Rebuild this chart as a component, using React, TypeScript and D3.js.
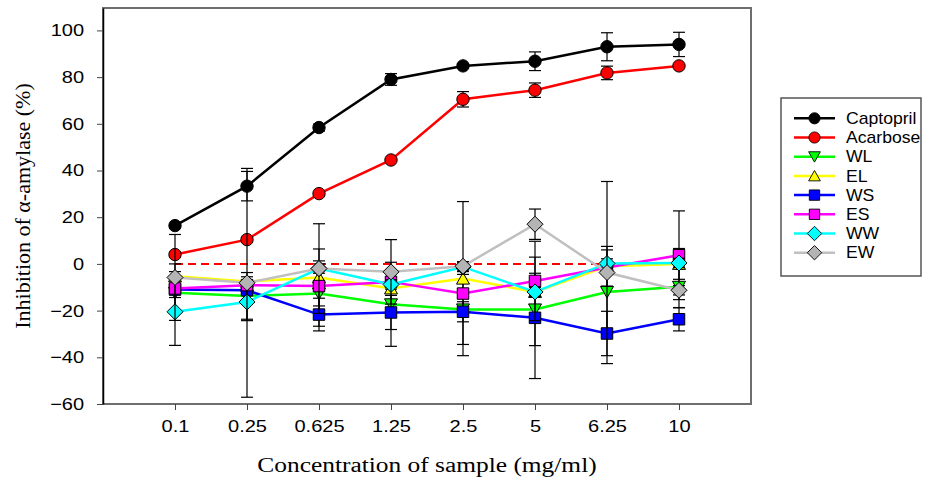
import React, { useEffect, useRef } from 'react';
import * as d3 from 'd3';

// concentrations (categorical x axis)
const concentrations = ['0.1', '0.25', '0.625', '1.25', '2.5', '5', '6.25', '10'];

// mean inhibition (%) and error per sample
const captopril = [16.4, 33.3, 58.4, 79, 84.8, 86.8, 93, 94];
const captoprilErr = [0.5, 6.3, 1.5, 2.5, 1, 4, 6, 5.2];
const acarbose = [4, 10.4, 30.1, 44.5, 70.5, 74.4, 81.8, 84.8];
const acarboseErr = [1, 1, 0.5, 0.5, 3.3, 3.1, 2.9, 0.5];
const wl = [-12.4, -13.7, -12.7, -17.3, -19.5, -19.5, -12, -9.8];
const wlErr = [2, 10, 14, 18, 15, 15.5, 18, 9];
const el = [-5.3, -7.5, -5.8, -10.5, -6.3, -12, -1, 0];
const elErr = [2, 2, 12.2, 2, 33, 2, 8.5, 6.6];
const ws = [-11, -11.3, -21.7, -20.8, -20.5, -23.1, -29.8, -23.7];
const wsErr = [2, 2, 7, 7.3, 4.3, 26, 9.5, 5];
const es = [-10.5, -9.1, -9.5, -7.7, -12.7, -7.3, -1.5, 3.7];
const esErr = [10.5, 2, 2, 2, 2, 17, 2, 19];
const ww = [-20.5, -16.3, -2, -8.8, -1.3, -12, 0.2, 0.4];
const wwErr = [14.4, 8, 2, 2, 2, 2, 2, 2];
const ew = [-5.8, -8.1, -2, -3.4, -1, 17, -3.7, -11.3];
const ewErr = [18.4, 49, 19.2, 13.8, 2, 6.5, 39, 2];

const seriesNames = ['Captopril', 'Acarbose', 'WL', 'EL', 'WS', 'ES', 'WW', 'EW'];
const seriesValues = [captopril, acarbose, wl, el, ws, es, ww, ew];
const seriesErrors = [captoprilErr, acarboseErr, wlErr, elErr, wsErr, esErr, wwErr, ewErr];
const lineColors = ['#000000', '#ff0000', '#00ff00', '#ffff00', '#0000ff', '#ff00ff', '#00ffff', '#c0c0c0'];
const markerFills = ['#000000', '#ff0000', '#00ff00', '#ffff00', '#0000ff', '#ff00ff', '#00ffff', '#b4b4b4'];
const markerShapes = ['circle', 'circle', 'down', 'up', 'square', 'square', 'diamond', 'diamond'];

const yTicks = [-60, -40, -20, 0, 20, 40, 60, 80, 100];

const W = 928;
const H = 481;
const plot = { left: 103, right: 751, top: 8, bottom: 404 };

function markerPath(shape: string): string {
  if (shape === 'circle') return d3.symbol(d3.symbolCircle, Math.PI * 6.2 * 6.2)() as string;
  if (shape === 'square') return d3.symbol(d3.symbolSquare, 11.5 * 11.5)() as string;
  if (shape === 'down') return 'M-6.5,-5.5L6.5,-5.5L0,6Z';
  if (shape === 'up') return 'M-6.5,5.5L6.5,5.5L0,-6Z';
  return 'M0,-8L8,0L0,8L-8,0Z';
}

function Chart() {
  const ref = useRef<SVGSVGElement | null>(null);

  useEffect(() => {
    const svg = d3.select(ref.current);
    svg.selectAll('*').remove();

    const x = d3.scalePoint<string>()
      .domain(concentrations)
      .range([plot.left, plot.right])
      .padding(1);

    const y = d3.scaleLinear()
      .domain([-60, 109.6])
      .range([plot.bottom, plot.top]);

    // frame
    svg.append('rect')
      .attr('x', plot.left).attr('y', plot.top)
      .attr('width', plot.right - plot.left).attr('height', plot.bottom - plot.top)
      .attr('fill', 'none').attr('stroke', '#6e6e6e').attr('stroke-width', 2);

    // axes
    const yAxis = d3.axisLeft(y).tickValues(yTicks).tickSize(6).tickSizeOuter(0).tickPadding(10);
    const gy = svg.append('g').attr('transform', `translate(${plot.left},0)`).call(yAxis);
    gy.select('.domain').attr('stroke', '#000').attr('stroke-width', 1.5);
    gy.selectAll('.tick line').attr('stroke', '#444');
    gy.selectAll('.tick text')
      .attr('font-family', '"Liberation Sans", Arial, sans-serif')
      .attr('font-size', 17).attr('fill', '#000')
      .attr('transform', 'scale(1.18,1)');

    const xAxis = d3.axisBottom(x).tickSize(6).tickSizeOuter(0).tickPadding(10);
    const gx = svg.append('g').attr('transform', `translate(0,${plot.bottom})`).call(xAxis);
    gx.select('.domain').remove();
    gx.selectAll('.tick line').attr('stroke', '#444');
    gx.selectAll('.tick text')
      .attr('font-family', '"Liberation Sans", Arial, sans-serif')
      .attr('font-size', 17).attr('fill', '#000')
      .attr('transform', 'scale(1.18,1)');

    // titles
    svg.append('text')
      .attr('transform', `translate(${(plot.left + plot.right) / 2},472) scale(1.27,1)`)
      .attr('text-anchor', 'middle')
      .attr('font-family', '"Liberation Serif", "Times New Roman", serif')
      .attr('font-size', 20)
      .text('Concentration of sample (mg/ml)');

    svg.append('text')
      .attr('transform', `translate(30,${(plot.top + plot.bottom) / 2}) rotate(-90) scale(1.1,1)`)
      .attr('text-anchor', 'middle')
      .attr('font-family', '"Liberation Serif", "Times New Roman", serif')
      .attr('font-size', 20)
      .text('Inhibition of \u03b1-amylase (%)');

    // zero reference line
    svg.append('line')
      .attr('x1', x(concentrations[0]) as number)
      .attr('x2', x(concentrations[concentrations.length - 1]) as number)
      .attr('y1', y(0)).attr('y2', y(0))
      .attr('stroke', '#ff0000').attr('stroke-width', 2).attr('stroke-dasharray', '8,5');

    const line = d3.line<number>()
      .x((d, i) => x(concentrations[i]) as number)
      .y(d => y(d));

    seriesValues.forEach((vals, s) => {
      const g = svg.append('g');
      g.append('path')
        .attr('d', line(vals))
        .attr('fill', 'none')
        .attr('stroke', lineColors[s])
        .attr('stroke-width', 2.5);

      const errs = seriesErrors[s];
      const eb = g.append('g').attr('stroke', '#000').attr('stroke-width', 1.2);
      vals.forEach((v, i) => {
        const cx = x(concentrations[i]) as number;
        const y1 = y(v + errs[i]);
        const y2 = y(v - errs[i]);
        eb.append('line').attr('x1', cx).attr('x2', cx).attr('y1', y1).attr('y2', y2);
        eb.append('line').attr('x1', cx - 6).attr('x2', cx + 6).attr('y1', y1).attr('y2', y1);
        eb.append('line').attr('x1', cx - 6).attr('x2', cx + 6).attr('y1', y2).attr('y2', y2);
      });

      g.selectAll('path.marker')
        .data(vals)
        .enter()
        .append('path')
        .attr('class', 'marker')
        .attr('d', markerPath(markerShapes[s]))
        .attr('transform', (d, i) => `translate(${x(concentrations[i])},${y(d)})`)
        .attr('fill', markerFills[s])
        .attr('stroke', '#000')
        .attr('stroke-width', 1);
    });

    // legend
    const legend = svg.append('g');
    legend.append('rect')
      .attr('x', 781).attr('y', 98).attr('width', 140).attr('height', 178)
      .attr('fill', '#fff').attr('stroke', '#555').attr('stroke-width', 1.5);

    seriesNames.forEach((name, s) => {
      const ly = 118.3 + s * 19.2;
      legend.append('line')
        .attr('x1', 794).attr('x2', 835).attr('y1', ly).attr('y2', ly)
        .attr('stroke', lineColors[s]).attr('stroke-width', 2.5);
      legend.append('path')
        .attr('d', markerPath(markerShapes[s]))
        .attr('transform', `translate(814.5,${ly}) scale(0.9)`)
        .attr('fill', markerFills[s]).attr('stroke', '#000').attr('stroke-width', 1);
      legend.append('text')
        .attr('transform', `translate(846,${ly + 5.7}) scale(1.1,1)`)
        .attr('font-family', '"Liberation Sans", Arial, sans-serif')
        .attr('font-size', 16)
        .text(name);
    });
  }, []);

  return (
    <svg ref={ref} width={W} height={H}
      style={{ position: 'absolute', left: 0, top: 0, background: '#fff' }} />
  );
}

export default function App() {
  return <Chart />;
}
